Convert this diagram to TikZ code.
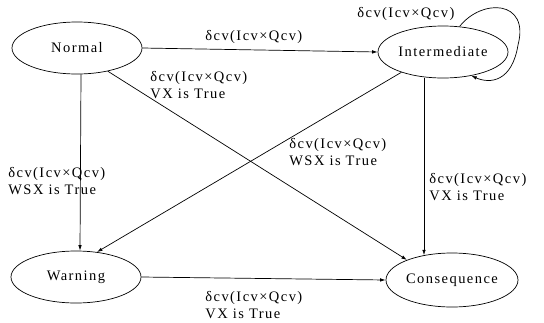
\documentclass[tikz,border=0pt]{standalone}
\usepackage{fontspec}
\setmainfont{Liberation Serif}[LetterSpace=10]
\usepackage{tikz}
\usetikzlibrary{arrows.meta,shapes.geometric}

\begin{document}
\begin{tikzpicture}[x=1pt, y=-1pt, line width=0.7pt, every node/.style={font=\fontsize{14.5}{17}\selectfont}, >={Latex[length=5.5pt, width=3.5pt]},
	state/.style={draw, ellipse, minimum width=130pt, minimum height=52pt, inner sep=0pt},
	lbl/.style={align=left, anchor=north west, inner sep=0pt}]
	\useasboundingbox (0,0) rectangle (544,322);
	\node[state] (N) at (77,48) {Normal};
	\node[state] (I) at (443,52) {Intermediate};
	\node[state] (W) at (76,277) {Warning};
	\node[state, minimum width=132pt, minimum height=54pt] (C) at (452,280) {Consequence};
	\draw[->] (N.east) -- (I.west);
	\draw[->] (N.-37) -- (C.156);
	\draw[->] ([xshift=4pt]N.south) -- ([xshift=4pt]W.north);
	\draw[->] (I.206) -- (W.50);
	\draw[->] ([xshift=-19pt]I.south) -- ([xshift=-28pt, yshift=-2.6pt]C.north);
	\draw[->] (W.east) -- (C.west);
	\draw[->] (I.57) .. controls (482,-2) and (530,0) .. (518,45) .. controls (512,82) and (490,84) .. (I.-40);
	\node[lbl] (lNI) at (205,30) {δcv(Icv×Qcv)};
	\node[lbl] (lII) at (357,7) {δcv(Icv×Qcv)};
	\node[lbl] (lNC) at (150,71) {δcv(Icv×Qcv)\\VX is True};
	\node[lbl] (lIW) at (289,138) {δcv(Icv×Qcv)\\WSX is True};
	\node[lbl] (lNW) at (8,167) {δcv(Icv×Qcv)\\WSX is True};
	\node[lbl] (lIC) at (429,173) {δcv(Icv×Qcv)\\VX is True};
	\node[lbl] (lWC) at (205,291) {δcv(Icv×Qcv)\\VX is True};
\end{tikzpicture}
\end{document}
